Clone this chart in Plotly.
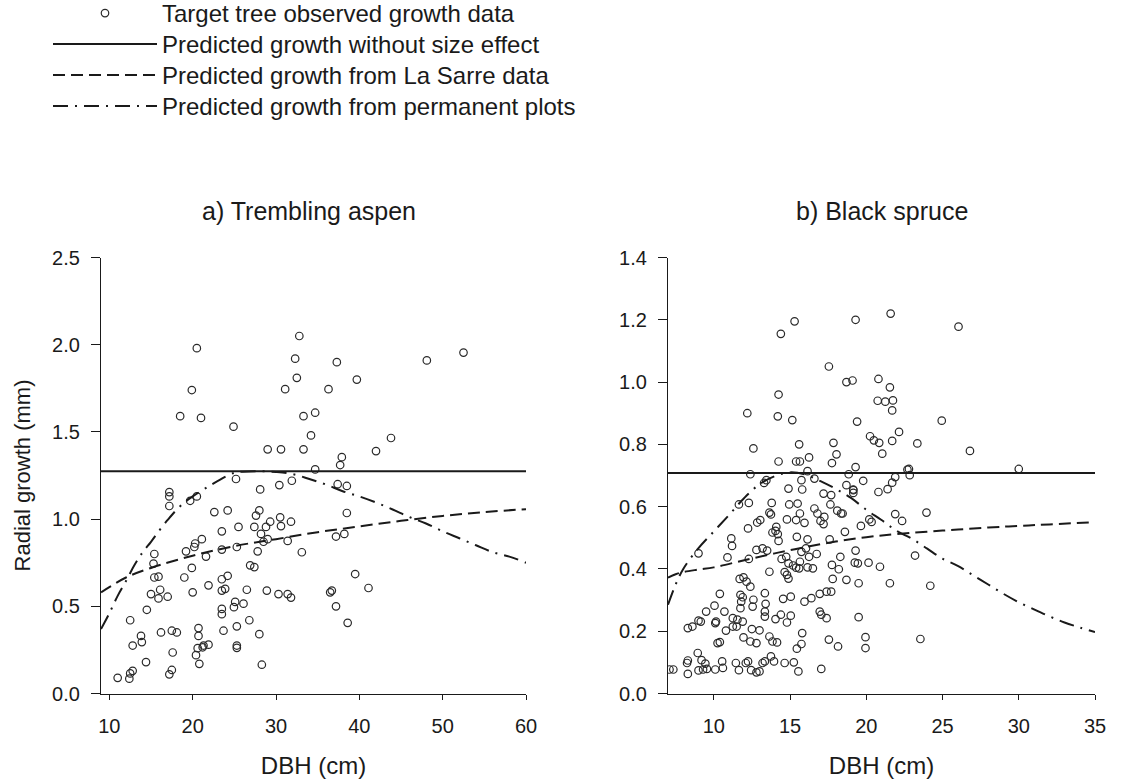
import plotly.graph_objects as go

# ---------------- data: a) Trembling aspen ----------------
aspen_dbh = [20.5, 19.9, 18.5, 21.0, 24.9, 29.0, 30.6, 32.8, 32.3, 32.5, 31.1, 37.3, 36.3, 39.7,
             33.3, 34.7, 34.2, 33.3, 37.9, 37.7, 34.7, 48.1, 52.5, 43.8, 42.0, 25.2, 30.4, 31.9,
             28.1, 37.4, 38.5, 17.2, 17.2, 17.2, 19.7, 20.5, 22.6, 24.2, 28.0, 27.6, 29.3, 28.8,
             30.5, 30.6, 31.8, 27.4, 25.5, 23.5, 38.5, 37.2, 38.2, 28.2, 29.0, 28.5, 31.4, 33.1,
             27.8, 21.1, 20.3, 20.2, 19.2, 21.6, 25.3, 23.5, 15.4, 15.3, 19.9, 26.9, 27.4, 15.4,
             15.9, 19.0, 23.5, 24.2, 21.9, 16.1, 15.0, 15.9, 17.0, 20.0, 23.5, 23.9, 26.5, 28.9,
             30.3, 31.4, 31.8, 36.5, 36.7, 39.5, 41.1, 37.2, 38.6, 25.1, 24.95, 26.1, 23.5, 23.5,
             14.5, 12.5, 26.8, 25.3, 23.7, 16.2, 17.5, 18.1, 20.7, 20.7, 28.0, 13.8, 13.9, 12.8,
             20.6, 21.3, 21.9, 21.2, 25.3, 25.3, 17.6, 20.4, 14.4, 20.8, 28.3, 17.5, 17.2, 12.8,
             12.5, 12.4, 11.0]
aspen_growth = [1.98, 1.74, 1.59, 1.58, 1.53, 1.40, 1.40, 2.05, 1.92, 1.81, 1.745, 1.90, 1.745, 1.80,
                1.59, 1.61, 1.48, 1.40, 1.355, 1.31, 1.285, 1.91, 1.955, 1.465, 1.39, 1.23, 1.195, 1.22,
                1.17, 1.20, 1.19, 1.155, 1.13, 1.075, 1.105, 1.13, 1.04, 1.05, 1.05, 1.02, 0.985, 0.955,
                1.01, 0.96, 0.985, 0.955, 0.955, 0.93, 1.035, 0.90, 0.915, 0.915, 0.885, 0.87, 0.875, 0.81,
                0.815, 0.885, 0.86, 0.84, 0.815, 0.785, 0.84, 0.825, 0.80, 0.745, 0.72, 0.735, 0.725, 0.665,
                0.67, 0.665, 0.655, 0.675, 0.62, 0.595, 0.57, 0.545, 0.555, 0.58, 0.59, 0.60, 0.595, 0.59,
                0.57, 0.57, 0.55, 0.58, 0.59, 0.685, 0.605, 0.50, 0.405, 0.525, 0.495, 0.515, 0.485, 0.455,
                0.48, 0.42, 0.42, 0.385, 0.36, 0.35, 0.36, 0.35, 0.375, 0.33, 0.34, 0.33, 0.295, 0.275,
                0.26, 0.275, 0.28, 0.265, 0.275, 0.262, 0.235, 0.22, 0.18, 0.17, 0.165, 0.135, 0.11, 0.13,
                0.115, 0.085, 0.09]

aspen_const_dbh = [9, 60]
aspen_const = [1.275, 1.275]
aspen_lasarre_dbh = [9, 10, 12, 15, 20, 25, 30, 35, 40, 45, 50, 55, 60]
aspen_lasarre = [0.58, 0.61, 0.665, 0.72, 0.79, 0.845, 0.885, 0.925, 0.958, 0.99, 1.018, 1.04, 1.057]
aspen_perm_dbh = [9, 10, 11, 12, 13, 14, 15, 16, 17, 18, 19, 20, 22, 24, 25, 26, 28, 30, 32, 34,
                  36, 38, 40, 42, 44, 46, 48, 50, 52, 54, 56, 58, 60]
aspen_perm = [0.37, 0.46, 0.56, 0.645, 0.735, 0.81, 0.87, 0.935, 0.995, 1.05, 1.095, 1.13, 1.19,
              1.245, 1.265, 1.272, 1.275, 1.27, 1.258, 1.23, 1.198, 1.16, 1.13, 1.095, 1.055, 1.012,
              0.975, 0.93, 0.89, 0.85, 0.81, 0.785, 0.75]

# ---------------- data: b) Black spruce ----------------
spruce_pts = [
    (12.2, 0.90), (12.6, 0.787), (14.4, 1.155), (15.3, 1.195), (14.25, 0.96), (14.2, 0.89), (15.15, 0.878),
    (15.6, 0.80), (14.25, 0.745), (15.4, 0.745), (15.65, 0.745), (16.25, 0.758), (17.55, 1.05), (18.7, 1.0),
    (19.1, 1.005), (19.3, 1.20), (17.85, 0.805), (18.05, 0.768), (17.75, 0.74), (19.3, 0.727), (19.4, 0.873),
    (16.15, 0.714), (21.6, 1.22), (26.05, 1.178), (20.8, 1.01), (21.55, 0.983), (20.75, 0.94), (21.25, 0.937),
    (21.75, 0.941), (21.7, 0.909), (24.95, 0.876), (22.15, 0.84), (20.25, 0.826), (20.5, 0.813), (20.85, 0.805),
    (21.7, 0.811), (21.05, 0.77), (23.35, 0.803), (26.8, 0.779), (22.8, 0.721), (30.0, 0.721),
    (12.4, 0.704), (18.85, 0.704), (13.45, 0.685), (13.3, 0.676), (15.75, 0.685), (16.6, 0.69), (14.9, 0.658),
    (15.8, 0.655), (17.2, 0.642), (17.7, 0.637), (18.7, 0.669), (19.15, 0.653), (11.65, 0.607), (12.3, 0.612),
    (13.8, 0.612), (14.95, 0.607), (15.5, 0.61), (13.65, 0.581), (13.75, 0.575), (15.65, 0.578), (16.6, 0.594),
    (16.8, 0.578), (17.25, 0.567), (17.0, 0.554), (17.2, 0.544), (17.65, 0.607), (18.1, 0.587), (18.45, 0.578),
    (14.8, 0.559), (15.4, 0.557), (15.95, 0.548), (12.85, 0.549), (13.05, 0.557), (12.25, 0.53), (14.1, 0.535),
    (14.05, 0.522), (14.2, 0.512), (14.25, 0.49), (13.85, 0.517), (15.45, 0.503), (16.15, 0.495), (18.6, 0.519),
    (17.6, 0.495), (11.15, 0.498), (11.2, 0.474), (9.0, 0.45), (10.9, 0.437), (12.3, 0.432), (12.8, 0.461),
    (13.2, 0.466), (13.5, 0.459), (14.45, 0.432), (14.75, 0.439), (14.9, 0.418), (15.2, 0.411), (15.75, 0.455),
    (16.05, 0.466), (15.65, 0.423), (15.4, 0.404), (15.6, 0.402), (16.15, 0.405), (16.5, 0.402), (16.75, 0.448),
    (16.25, 0.439), (18.3, 0.439), (17.75, 0.413), (18.2, 0.399), (14.65, 0.39), (14.8, 0.381), (14.9, 0.369),
    (13.65, 0.391), (11.7, 0.368), (11.95, 0.373), (12.15, 0.359), (12.4, 0.343), (17.8, 0.368), (18.7, 0.365),
    (19.45, 0.418), (10.4, 0.32), (11.75, 0.317), (11.9, 0.309), (11.8, 0.295), (11.75, 0.274), (12.6, 0.301),
    (13.35, 0.322), (13.4, 0.288), (13.35, 0.263), (13.35, 0.247), (12.55, 0.279), (14.55, 0.304), (15.05, 0.311),
    (15.95, 0.295), (16.4, 0.306), (16.95, 0.32), (17.4, 0.327), (17.7, 0.327), (10.05, 0.282), (10.7, 0.263),
    (11.25, 0.242), (11.55, 0.237), (11.9, 0.231), (14.05, 0.239), (14.4, 0.253), (15.05, 0.25), (14.8, 0.228),
    (16.95, 0.263), (17.05, 0.253), (17.4, 0.242), (9.5, 0.263), (10.15, 0.231), (10.1, 0.226), (8.3, 0.21),
    (8.6, 0.215), (9.0, 0.234), (9.15, 0.231), (10.8, 0.202), (11.25, 0.215), (11.5, 0.215), (12.5, 0.207),
    (13.0, 0.203), (11.95, 0.18), (12.4, 0.167), (12.8, 0.162), (13.65, 0.183), (13.85, 0.167), (14.15, 0.164),
    (15.8, 0.194), (15.75, 0.159), (15.45, 0.144), (17.55, 0.173), (18.15, 0.151), (10.25, 0.162), (10.4, 0.165),
    (8.95, 0.13), (8.3, 0.106), (8.25, 0.098), (9.2, 0.107), (9.45, 0.096), (9.0, 0.074), (9.3, 0.077),
    (9.55, 0.079), (10.1, 0.077), (10.55, 0.103), (10.6, 0.082), (8.3, 0.063), (7.35, 0.077), (7.1, 0.077),
    (11.45, 0.098), (11.65, 0.075), (12.1, 0.098), (12.25, 0.103), (12.45, 0.075), (12.8, 0.068), (13.0, 0.071),
    (13.2, 0.098), (13.35, 0.103), (13.75, 0.119), (13.95, 0.103), (14.65, 0.098), (15.25, 0.1), (15.55, 0.071),
    (17.05, 0.079),
    (19.8, 0.683), (19.15, 0.655), (19.15, 0.644), (20.8, 0.647), (21.4, 0.656), (21.7, 0.677), (21.9, 0.695),
    (22.7, 0.719), (22.85, 0.701), (18.35, 0.578), (20.2, 0.559), (20.35, 0.551), (19.65, 0.538), (21.9, 0.576),
    (22.35, 0.554), (23.95, 0.581), (19.3, 0.459), (19.25, 0.42), (20.15, 0.42), (20.9, 0.407), (23.2, 0.443),
    (19.5, 0.354), (21.55, 0.354), (24.2, 0.346), (19.5, 0.245), (19.95, 0.181), (19.95, 0.146), (23.55, 0.175),
]
spruce_dbh = [p[0] for p in spruce_pts]
spruce_growth = [p[1] for p in spruce_pts]

spruce_const_dbh = [7, 35]
spruce_const = [0.708, 0.708]
spruce_lasarre_dbh = [7, 7.5, 8, 9, 10, 12, 14, 15, 16, 18, 20, 22, 25, 28, 30, 32, 35]
spruce_lasarre = [0.372, 0.383, 0.39, 0.398, 0.405, 0.428, 0.45, 0.46, 0.47, 0.488, 0.502, 0.512,
                  0.523, 0.533, 0.538, 0.543, 0.55]
spruce_perm_dbh = [7, 7.5, 8, 9, 10, 11, 12, 13, 14, 15, 16, 17, 18, 19, 20, 21, 22, 23, 24, 25,
                   26, 27, 28, 29, 30, 31, 32, 33, 34, 35]
spruce_perm = [0.285, 0.35, 0.40, 0.467, 0.52, 0.573, 0.628, 0.672, 0.698, 0.71, 0.703, 0.682, 0.657,
               0.628, 0.59, 0.557, 0.522, 0.497, 0.465, 0.433, 0.41, 0.38, 0.35, 0.32, 0.293, 0.27,
               0.248, 0.228, 0.212, 0.197]

legend_names = ["Target tree observed growth data", "Predicted growth without size effect",
                "Predicted growth from La Sarre data", "Predicted growth from permanent plots"]
panel_titles = ["a) Trembling aspen", "b) Black spruce"]

# ---------------- figure ----------------
FONT = "Liberation Sans, Arial, Helvetica, sans-serif"
INK = "#1a1a1a"
DASH = "12px,6px"
DASHDOT = "15px,7px,2px,7px"
LEGEND_IDS = ["legend", "legend2", "legend3", "legend4"]

fig = go.Figure()

def add_panel(xs, ys, cdbh, cval, ldbh, lval, pdbh, pval, xa, ya, show):
    common = dict(showlegend=show, xaxis=xa, yaxis=ya)
    fig.add_trace(go.Scatter(x=xs, y=ys, mode="markers", name=legend_names[0], legendgroup="g0",
                             legend=LEGEND_IDS[0], **common,
                             marker=dict(symbol="circle-open", size=7.5, color="#2a2a2a",
                                         line=dict(width=1.2, color="#2a2a2a"))))
    fig.add_trace(go.Scatter(x=cdbh, y=cval, mode="lines", name=legend_names[1], legendgroup="g1",
                             legend=LEGEND_IDS[1], **common,
                             line=dict(color=INK, width=2)))
    fig.add_trace(go.Scatter(x=ldbh, y=lval, mode="lines", name=legend_names[2], legendgroup="g2",
                             legend=LEGEND_IDS[2], line_shape="spline", **common,
                             line=dict(color=INK, width=2, dash=DASH)))
    fig.add_trace(go.Scatter(x=pdbh, y=pval, mode="lines", name=legend_names[3], legendgroup="g3",
                             legend=LEGEND_IDS[3], line_shape="spline", **common,
                             line=dict(color=INK, width=2, dash=DASHDOT)))

add_panel(aspen_dbh, aspen_growth, aspen_const_dbh, aspen_const, aspen_lasarre_dbh, aspen_lasarre,
          aspen_perm_dbh, aspen_perm, "x", "y", True)
add_panel(spruce_dbh, spruce_growth, spruce_const_dbh, spruce_const, spruce_lasarre_dbh, spruce_lasarre,
          spruce_perm_dbh, spruce_perm, "x2", "y2", False)

W, H = 1121, 782
ydom = [1 - 693.5 / H, 1 - 257.5 / H]
TICKFONT = dict(family=FONT, size=20, color=INK)
TITLEFONT = dict(family=FONT, size=24, color=INK)

axis_common = dict(showline=True, linecolor=INK, linewidth=1.2, ticks="outside", tickcolor=INK,
                   tickwidth=1, showgrid=False, zeroline=False, tickfont=TICKFONT, mirror=False)

fig.update_layout(
    width=W, height=H,
    margin=dict(l=0, r=0, t=0, b=0, autoexpand=False),
    paper_bgcolor="white", plot_bgcolor="white",
    font=dict(family=FONT, color=INK),
    showlegend=True,
    xaxis=dict(domain=[101 / W, 526 / W], range=[9, 60], tickvals=[10, 20, 30, 40, 50, 60],
               ticklen=5, ticklabelstandoff=9, anchor="y",
               title=dict(text="DBH (cm)", font=TITLEFONT, standoff=21),
               **axis_common),
    yaxis=dict(domain=ydom, range=[0, 2.5], tickvals=[0, 0.5, 1.0, 1.5, 2.0, 2.5], tickformat=".1f",
               ticklen=9, ticklabelstandoff=7, anchor="x",
               title=dict(text="Radial growth (mm)", font=dict(family=FONT, size=22, color=INK), standoff=15),
               **axis_common),
    xaxis2=dict(domain=[668 / W, 1095 / W], range=[7, 35], tickvals=[10, 15, 20, 25, 30, 35],
                ticklen=5, ticklabelstandoff=9, anchor="y2",
                title=dict(text="DBH (cm)", font=TITLEFONT, standoff=21),
                **axis_common),
    yaxis2=dict(domain=ydom, range=[0, 1.4], tickvals=[0, 0.2, 0.4, 0.6, 0.8, 1.0, 1.2, 1.4], tickformat=".1f",
                ticklen=9, ticklabelstandoff=7, anchor="x2", **axis_common),
)

# one single-entry legend per row so the row spacing matches the original
legend_rows = [14, 45, 76, 107]
for lid, row in zip(LEGEND_IDS, legend_rows):
    fig.update_layout({lid: dict(x=48 / W, y=1 - (row - 23) / H, xanchor="left", yanchor="top",
                                 itemwidth=104, bgcolor="rgba(0,0,0,0)",
                                 font=dict(family=FONT, size=24, color=INK))})

for title, cx in zip(panel_titles, [309, 882]):
    fig.add_annotation(text=title, x=cx / W, y=1 - 211 / H, xref="paper", yref="paper",
                       showarrow=False, xanchor="center", yanchor="middle",
                       font=dict(family=FONT, size=25, color=INK))

fig.write_html("out.html")
